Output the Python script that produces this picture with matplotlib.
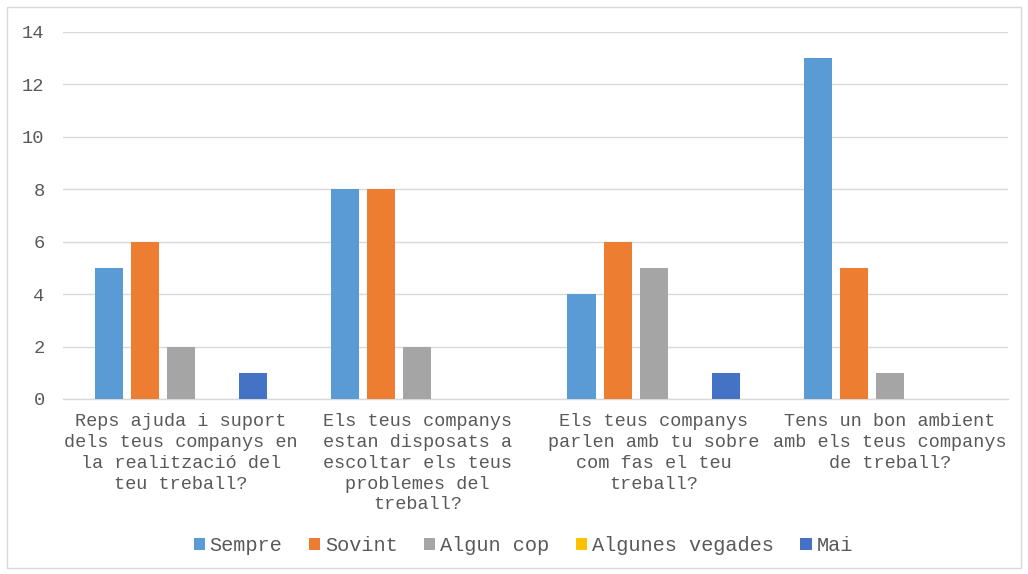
import matplotlib.pyplot as plt
import numpy as np
from matplotlib.patches import Rectangle

categories = [
    "Reps ajuda i suport\ndels teus companys en\nla realització del\nteu treball?",
    "Els teus companys\nestan disposats a\nescoltar els teus\nproblemes del\ntreball?",
    "Els teus companys\nparlen amb tu sobre\ncom fas el teu\ntreball?",
    "Tens un bon ambient\namb els teus companys\nde treball?",
]
series_names = ["Sempre", "Sovint", "Algun cop", "Algunes vegades", "Mai"]
sempre = [5, 8, 4, 13]
sovint = [6, 8, 6, 5]
algun_cop = [2, 2, 5, 1]
algunes_vegades = [0, 0, 0, 0]
mai = [1, 0, 1, 0]
colors = ["#5B9BD5", "#ED7D31", "#A5A5A5", "#FFC000", "#4472C4"]

plt.rcParams["font.family"] = ["Liberation Mono", "DejaVu Sans"]
text_color = "#595959"
grid_color = "#D9D9D9"

fig = plt.figure(figsize=(10.28, 5.74), dpi=100)
ax = fig.add_axes([0.0613, 0.3049, 0.9192, 0.6394])

x = np.arange(len(categories))
width = 0.119
step = 0.1525
values = [sempre, sovint, algun_cop, algunes_vegades, mai]
for i, (name, vals, c) in enumerate(zip(series_names, values, colors)):
    ax.bar(x + (i - 2) * step, vals, width, color=c, label=name, zorder=3)

ax.set_xlim(-0.5, 3.5)
ax.set_ylim(0, 14)
ax.set_yticks(range(0, 15, 2))
ax.yaxis.grid(True, color=grid_color, linewidth=1, zorder=0)
for s in ["top", "right", "left"]:
    ax.spines[s].set_visible(False)
ax.spines["bottom"].set_color(grid_color)
ax.spines["bottom"].set_linewidth(1)
ax.tick_params(axis="both", length=0, colors=text_color)
ax.tick_params(axis="y", pad=18, labelsize=13.5)
ax.tick_params(axis="x", pad=10, labelsize=13.3)
ax.set_xticks(x)
ax.set_xticklabels(categories, linespacing=1.3)
for lbl in ax.get_yticklabels():
    lbl.set_x(0.007)
for lbl in ax.get_xticklabels():
    lbl.set_ha("center")
    lbl.set_va("top")

fig.patches.append(Rectangle((7 / 1028, 6 / 574), 1014 / 1028, 561 / 574,
                             transform=fig.transFigure, fill=False,
                             edgecolor=grid_color, linewidth=1))

leg = fig.legend(loc="center", bbox_to_anchor=(0.509, 0.05), ncol=5, frameon=False,
                 fontsize=14.6, handlelength=0.55, handleheight=0.55,
                 handletextpad=0.25, columnspacing=1.3, labelcolor=text_color)

fig.savefig("out.png", dpi=100)
